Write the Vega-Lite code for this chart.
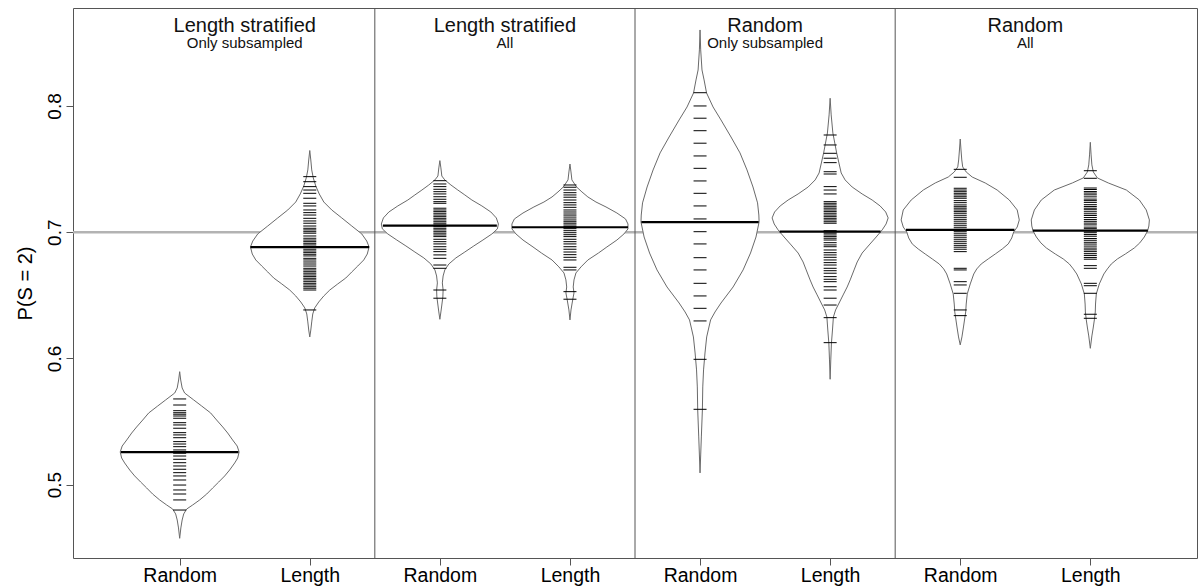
{
"$schema": "https://vega.github.io/schema/vega-lite/v6.json",
"width": 1124, "height": 550,
"autosize": {"type": "none"},
"padding": {"left": 73, "top": 8, "right": 3, "bottom": 28},
"background": "white",
"config": {"view": {"stroke": "#555", "strokeWidth": 1}, "font": "Liberation Sans"},
"datasets": {
"ref": [{"v": 0.7}],
"seps": [{"pos": 2.5}, {"pos": 4.5}, {"pos": 6.5}],
"panels": [
 {"pos": 1.5, "t1": "Length stratified", "t2": "Only subsampled"},
 {"pos": 3.5, "t1": "Length stratified", "t2": "All"},
 {"pos": 5.5, "t1": "Random", "t2": "Only subsampled"},
 {"pos": 7.5, "t1": "Random", "t2": "All"}],
"med": [
 {"b":1,"v":0.5257,"w":0.452},{"b":2,"v":0.6881,"w":0.456},{"b":3,"v":0.7052,"w":0.438},{"b":4,"v":0.7039,"w":0.446},
 {"b":5,"v":0.7079,"w":0.451},{"b":6,"v":0.7004,"w":0.388},{"b":7,"v":0.7018,"w":0.417},{"b":8,"v":0.7012,"w":0.442}],
"outline": [
 {"b":1,"v":0.5895,"w":0},{"b":1,"v":0.5829,"w":0.008},{"b":1,"v":0.5766,"w":0.019},{"b":1,"v":0.5726,"w":0.038},{"b":1,"v":0.5671,"w":0.108},{"b":1,"v":0.5623,"w":0.169},{"b":1,"v":0.5568,"w":0.238},{"b":1,"v":0.5512,"w":0.284},{"b":1,"v":0.5457,"w":0.331},{"b":1,"v":0.5409,"w":0.369},{"b":1,"v":0.5354,"w":0.407},{"b":1,"v":0.5306,"w":0.442},{"b":1,"v":0.5259,"w":0.457},{"b":1,"v":0.5211,"w":0.446},{"b":1,"v":0.5172,"w":0.423},{"b":1,"v":0.5116,"w":0.384},{"b":1,"v":0.5069,"w":0.346},{"b":1,"v":0.5021,"w":0.300},{"b":1,"v":0.4974,"w":0.254},{"b":1,"v":0.4926,"w":0.208},{"b":1,"v":0.4879,"w":0.154},{"b":1,"v":0.4839,"w":0.100},{"b":1,"v":0.4807,"w":0.054},{"b":1,"v":0.4768,"w":0.031},{"b":1,"v":0.4720,"w":0.019},{"b":1,"v":0.4657,"w":0.009},{"b":1,"v":0.4575,"w":0},
 {"b":2,"v":0.7647,"w":0},{"b":2,"v":0.7572,"w":0.008},{"b":2,"v":0.7493,"w":0.015},{"b":2,"v":0.7430,"w":0.027},{"b":2,"v":0.7366,"w":0.046},{"b":2,"v":0.7303,"w":0.073},{"b":2,"v":0.7239,"w":0.108},{"b":2,"v":0.7176,"w":0.169},{"b":2,"v":0.7113,"w":0.246},{"b":2,"v":0.7049,"w":0.323},{"b":2,"v":0.6986,"w":0.400},{"b":2,"v":0.6930,"w":0.438},{"b":2,"v":0.6883,"w":0.456},{"b":2,"v":0.6827,"w":0.442},{"b":2,"v":0.6780,"w":0.415},{"b":2,"v":0.6732,"w":0.369},{"b":2,"v":0.6685,"w":0.323},{"b":2,"v":0.6637,"w":0.277},{"b":2,"v":0.6590,"w":0.215},{"b":2,"v":0.6542,"w":0.154},{"b":2,"v":0.6495,"w":0.108},{"b":2,"v":0.6447,"w":0.069},{"b":2,"v":0.6400,"w":0.038},{"b":2,"v":0.6352,"w":0.023},{"b":2,"v":0.6289,"w":0.015},{"b":2,"v":0.6225,"w":0.008},{"b":2,"v":0.6170,"w":0},
 {"b":3,"v":0.7567,"w":0},{"b":3,"v":0.7509,"w":0.008},{"b":3,"v":0.7445,"w":0.015},{"b":3,"v":0.7414,"w":0.038},{"b":3,"v":0.7374,"w":0.085},{"b":3,"v":0.7334,"w":0.138},{"b":3,"v":0.7295,"w":0.192},{"b":3,"v":0.7255,"w":0.246},{"b":3,"v":0.7208,"w":0.323},{"b":3,"v":0.7160,"w":0.392},{"b":3,"v":0.7113,"w":0.434},{"b":3,"v":0.7065,"w":0.450},{"b":3,"v":0.7026,"w":0.442},{"b":3,"v":0.6986,"w":0.400},{"b":3,"v":0.6938,"w":0.331},{"b":3,"v":0.6891,"w":0.261},{"b":3,"v":0.6843,"w":0.192},{"b":3,"v":0.6796,"w":0.123},{"b":3,"v":0.6748,"w":0.069},{"b":3,"v":0.6701,"w":0.038},{"b":3,"v":0.6653,"w":0.025},{"b":3,"v":0.6598,"w":0.019},{"b":3,"v":0.6542,"w":0.025},{"b":3,"v":0.6487,"w":0.023},{"b":3,"v":0.6423,"w":0.015},{"b":3,"v":0.6368,"w":0.008},{"b":3,"v":0.6310,"w":0},
 {"b":4,"v":0.7540,"w":0},{"b":4,"v":0.7477,"w":0.008},{"b":4,"v":0.7414,"w":0.015},{"b":4,"v":0.7358,"w":0.051},{"b":4,"v":0.7319,"w":0.092},{"b":4,"v":0.7279,"w":0.138},{"b":4,"v":0.7239,"w":0.200},{"b":4,"v":0.7200,"w":0.277},{"b":4,"v":0.7152,"w":0.361},{"b":4,"v":0.7105,"w":0.427},{"b":4,"v":0.7065,"w":0.446},{"b":4,"v":0.7026,"w":0.446},{"b":4,"v":0.6986,"w":0.415},{"b":4,"v":0.6938,"w":0.361},{"b":4,"v":0.6883,"w":0.284},{"b":4,"v":0.6835,"w":0.219},{"b":4,"v":0.6780,"w":0.138},{"b":4,"v":0.6725,"w":0.085},{"b":4,"v":0.6677,"w":0.046},{"b":4,"v":0.6622,"w":0.031},{"b":4,"v":0.6566,"w":0.025},{"b":4,"v":0.6519,"w":0.031},{"b":4,"v":0.6463,"w":0.021},{"b":4,"v":0.6384,"w":0.008},{"b":4,"v":0.6305,"w":0},
 {"b":5,"v":0.8602,"w":0},{"b":5,"v":0.8444,"w":0.005},{"b":5,"v":0.8285,"w":0.015},{"b":5,"v":0.8206,"w":0.031},{"b":5,"v":0.8103,"w":0.050},{"b":5,"v":0.7992,"w":0.100},{"b":5,"v":0.7889,"w":0.161},{"b":5,"v":0.7754,"w":0.238},{"b":5,"v":0.7628,"w":0.307},{"b":5,"v":0.7493,"w":0.361},{"b":5,"v":0.7358,"w":0.407},{"b":5,"v":0.7232,"w":0.442},{"b":5,"v":0.7136,"w":0.452},{"b":5,"v":0.7081,"w":0.454},{"b":5,"v":0.6962,"w":0.430},{"b":5,"v":0.6835,"w":0.388},{"b":5,"v":0.6701,"w":0.331},{"b":5,"v":0.6566,"w":0.254},{"b":5,"v":0.6439,"w":0.161},{"b":5,"v":0.6368,"w":0.115},{"b":5,"v":0.6305,"w":0.081},{"b":5,"v":0.6170,"w":0.051},{"b":5,"v":0.6043,"w":0.038},{"b":5,"v":0.5909,"w":0.027},{"b":5,"v":0.5774,"w":0.021},{"b":5,"v":0.5592,"w":0.018},{"b":5,"v":0.5378,"w":0.010},{"b":5,"v":0.5235,"w":0.005},{"b":5,"v":0.5093,"w":0},
 {"b":6,"v":0.8061,"w":0},{"b":6,"v":0.7929,"w":0.008},{"b":6,"v":0.7786,"w":0.021},{"b":6,"v":0.7628,"w":0.050},{"b":6,"v":0.7469,"w":0.085},{"b":6,"v":0.7414,"w":0.115},{"b":6,"v":0.7358,"w":0.169},{"b":6,"v":0.7303,"w":0.246},{"b":6,"v":0.7255,"w":0.323},{"b":6,"v":0.7208,"w":0.384},{"b":6,"v":0.7160,"w":0.427},{"b":6,"v":0.7113,"w":0.446},{"b":6,"v":0.7065,"w":0.430},{"b":6,"v":0.7018,"w":0.400},{"b":6,"v":0.6962,"w":0.354},{"b":6,"v":0.6899,"w":0.300},{"b":6,"v":0.6835,"w":0.246},{"b":6,"v":0.6764,"w":0.208},{"b":6,"v":0.6701,"w":0.184},{"b":6,"v":0.6622,"w":0.154},{"b":6,"v":0.6566,"w":0.131},{"b":6,"v":0.6503,"w":0.100},{"b":6,"v":0.6439,"w":0.069},{"b":6,"v":0.6384,"w":0.042},{"b":6,"v":0.6328,"w":0.025},{"b":6,"v":0.6225,"w":0.018},{"b":6,"v":0.6122,"w":0.010},{"b":6,"v":0.5988,"w":0.005},{"b":6,"v":0.5835,"w":0},
 {"b":7,"v":0.7738,"w":0},{"b":7,"v":0.7651,"w":0.006},{"b":7,"v":0.7572,"w":0.012},{"b":7,"v":0.7517,"w":0.019},{"b":7,"v":0.7477,"w":0.046},{"b":7,"v":0.7437,"w":0.092},{"b":7,"v":0.7390,"w":0.192},{"b":7,"v":0.7334,"w":0.284},{"b":7,"v":0.7255,"w":0.377},{"b":7,"v":0.7176,"w":0.438},{"b":7,"v":0.7097,"w":0.454},{"b":7,"v":0.7041,"w":0.438},{"b":7,"v":0.7002,"w":0.411},{"b":7,"v":0.6954,"w":0.396},{"b":7,"v":0.6907,"w":0.369},{"b":7,"v":0.6867,"w":0.323},{"b":7,"v":0.6827,"w":0.269},{"b":7,"v":0.6788,"w":0.215},{"b":7,"v":0.6748,"w":0.161},{"b":7,"v":0.6709,"w":0.127},{"b":7,"v":0.6669,"w":0.104},{"b":7,"v":0.6590,"w":0.077},{"b":7,"v":0.6511,"w":0.054},{"b":7,"v":0.6431,"w":0.046},{"b":7,"v":0.6368,"w":0.042},{"b":7,"v":0.6320,"w":0.035},{"b":7,"v":0.6249,"w":0.025},{"b":7,"v":0.6170,"w":0.013},{"b":7,"v":0.6107,"w":0},
 {"b":8,"v":0.7712,"w":0},{"b":8,"v":0.7612,"w":0.006},{"b":8,"v":0.7533,"w":0.012},{"b":8,"v":0.7477,"w":0.023},{"b":8,"v":0.7430,"w":0.054},{"b":8,"v":0.7390,"w":0.138},{"b":8,"v":0.7334,"w":0.277},{"b":8,"v":0.7255,"w":0.377},{"b":8,"v":0.7176,"w":0.430},{"b":8,"v":0.7097,"w":0.454},{"b":8,"v":0.7049,"w":0.450},{"b":8,"v":0.7010,"w":0.440},{"b":8,"v":0.6962,"w":0.415},{"b":8,"v":0.6915,"w":0.380},{"b":8,"v":0.6875,"w":0.338},{"b":8,"v":0.6827,"w":0.269},{"b":8,"v":0.6788,"w":0.208},{"b":8,"v":0.6748,"w":0.161},{"b":8,"v":0.6709,"w":0.131},{"b":8,"v":0.6669,"w":0.104},{"b":8,"v":0.6590,"w":0.069},{"b":8,"v":0.6511,"w":0.046},{"b":8,"v":0.6431,"w":0.040},{"b":8,"v":0.6368,"w":0.038},{"b":8,"v":0.6305,"w":0.031},{"b":8,"v":0.6241,"w":0.022},{"b":8,"v":0.6178,"w":0.012},{"b":8,"v":0.6080,"w":0}],
"lines": [
 {"b":1,"v":0.5679},{"b":1,"v":0.5631},{"b":1,"v":0.5586},{"b":1,"v":0.5570},{"b":1,"v":0.5558},{"b":1,"v":0.5544},{"b":1,"v":0.5526},{"b":1,"v":0.5491},{"b":1,"v":0.5473},{"b":1,"v":0.5447},{"b":1,"v":0.5412},{"b":1,"v":0.5394},{"b":1,"v":0.5372},{"b":1,"v":0.5341},{"b":1,"v":0.5322},{"b":1,"v":0.5301},{"b":1,"v":0.5275},{"b":1,"v":0.5249},{"b":1,"v":0.5227},{"b":1,"v":0.5201},{"b":1,"v":0.5174},{"b":1,"v":0.5148},{"b":1,"v":0.5122},{"b":1,"v":0.5095},{"b":1,"v":0.5069},{"b":1,"v":0.5037},{"b":1,"v":0.4997},{"b":1,"v":0.4958},{"b":1,"v":0.4926},{"b":1,"v":0.4879},{"b":1,"v":0.4799},
 {"b":2,"v":0.7440},{"b":2,"v":0.7400},{"b":2,"v":0.7361},{"b":2,"v":0.7334},{"b":2,"v":0.7308},{"b":2,"v":0.7269},{"b":2,"v":0.7229},{"b":2,"v":0.7208},{"b":2,"v":0.7176},{"b":2,"v":0.7155},{"b":2,"v":0.7136},{"b":2,"v":0.7110},{"b":2,"v":0.7089},{"b":2,"v":0.7071},{"b":2,"v":0.7049},{"b":2,"v":0.7031},{"b":2,"v":0.7018},{"b":2,"v":0.7004},{"b":2,"v":0.6992},{"b":2,"v":0.6970},{"b":2,"v":0.6952},{"b":2,"v":0.6938},{"b":2,"v":0.6925},{"b":2,"v":0.6912},{"b":2,"v":0.6899},{"b":2,"v":0.6881},{"b":2,"v":0.6865},{"b":2,"v":0.6851},{"b":2,"v":0.6838},{"b":2,"v":0.6825},{"b":2,"v":0.6812},{"b":2,"v":0.6793},{"b":2,"v":0.6780},{"b":2,"v":0.6764},{"b":2,"v":0.6748},{"b":2,"v":0.6732},{"b":2,"v":0.6714},{"b":2,"v":0.6701},{"b":2,"v":0.6687},{"b":2,"v":0.6675},{"b":2,"v":0.6661},{"b":2,"v":0.6648},{"b":2,"v":0.6635},{"b":2,"v":0.6622},{"b":2,"v":0.6608},{"b":2,"v":0.6595},{"b":2,"v":0.6582},{"b":2,"v":0.6568},{"b":2,"v":0.6556},{"b":2,"v":0.6542},{"b":2,"v":0.6384},
 {"b":3,"v":0.7408},{"b":3,"v":0.7382},{"b":3,"v":0.7361},{"b":3,"v":0.7340},{"b":3,"v":0.7321},{"b":3,"v":0.7303},{"b":3,"v":0.7281},{"b":3,"v":0.7261},{"b":3,"v":0.7242},{"b":3,"v":0.7229},{"b":3,"v":0.7190},{"b":3,"v":0.7176},{"b":3,"v":0.7163},{"b":3,"v":0.7150},{"b":3,"v":0.7136},{"b":3,"v":0.7123},{"b":3,"v":0.7110},{"b":3,"v":0.7097},{"b":3,"v":0.7083},{"b":3,"v":0.7071},{"b":3,"v":0.7057},{"b":3,"v":0.7044},{"b":3,"v":0.7031},{"b":3,"v":0.7018},{"b":3,"v":0.7004},{"b":3,"v":0.6992},{"b":3,"v":0.6978},{"b":3,"v":0.6965},{"b":3,"v":0.6944},{"b":3,"v":0.6925},{"b":3,"v":0.6907},{"b":3,"v":0.6885},{"b":3,"v":0.6865},{"b":3,"v":0.6846},{"b":3,"v":0.6820},{"b":3,"v":0.6793},{"b":3,"v":0.6740},{"b":3,"v":0.6714},{"b":3,"v":0.6542},{"b":3,"v":0.6477},
 {"b":4,"v":0.7374},{"b":4,"v":0.7356},{"b":4,"v":0.7334},{"b":4,"v":0.7313},{"b":4,"v":0.7295},{"b":4,"v":0.7277},{"b":4,"v":0.7255},{"b":4,"v":0.7234},{"b":4,"v":0.7216},{"b":4,"v":0.7197},{"b":4,"v":0.7176},{"b":4,"v":0.7160},{"b":4,"v":0.7144},{"b":4,"v":0.7129},{"b":4,"v":0.7113},{"b":4,"v":0.7097},{"b":4,"v":0.7083},{"b":4,"v":0.7071},{"b":4,"v":0.7057},{"b":4,"v":0.7044},{"b":4,"v":0.7028},{"b":4,"v":0.7012},{"b":4,"v":0.6996},{"b":4,"v":0.6980},{"b":4,"v":0.6965},{"b":4,"v":0.6944},{"b":4,"v":0.6925},{"b":4,"v":0.6907},{"b":4,"v":0.6885},{"b":4,"v":0.6865},{"b":4,"v":0.6843},{"b":4,"v":0.6822},{"b":4,"v":0.6801},{"b":4,"v":0.6780},{"b":4,"v":0.6722},{"b":4,"v":0.6701},{"b":4,"v":0.6529},{"b":4,"v":0.6469},
 {"b":5,"v":0.8105},{"b":5,"v":0.8000},{"b":5,"v":0.7903},{"b":5,"v":0.7804},{"b":5,"v":0.7705},{"b":5,"v":0.7604},{"b":5,"v":0.7506},{"b":5,"v":0.7406},{"b":5,"v":0.7308},{"b":5,"v":0.7208},{"b":5,"v":0.7105},{"b":5,"v":0.7004},{"b":5,"v":0.6907},{"b":5,"v":0.6798},{"b":5,"v":0.6701},{"b":5,"v":0.6595},{"b":5,"v":0.6495},{"b":5,"v":0.6397},{"b":5,"v":0.6297},{"b":5,"v":0.5993},{"b":5,"v":0.5597},
 {"b":6,"v":0.7770},{"b":6,"v":0.7691},{"b":6,"v":0.7625},{"b":6,"v":0.7586},{"b":6,"v":0.7551},{"b":6,"v":0.7479},{"b":6,"v":0.7461},{"b":6,"v":0.7361},{"b":6,"v":0.7334},{"b":6,"v":0.7303},{"b":6,"v":0.7242},{"b":6,"v":0.7229},{"b":6,"v":0.7216},{"b":6,"v":0.7202},{"b":6,"v":0.7190},{"b":6,"v":0.7176},{"b":6,"v":0.7163},{"b":6,"v":0.7150},{"b":6,"v":0.7136},{"b":6,"v":0.7123},{"b":6,"v":0.7110},{"b":6,"v":0.7097},{"b":6,"v":0.7083},{"b":6,"v":0.7071},{"b":6,"v":0.7012},{"b":6,"v":0.7002},{"b":6,"v":0.6992},{"b":6,"v":0.6978},{"b":6,"v":0.6965},{"b":6,"v":0.6952},{"b":6,"v":0.6938},{"b":6,"v":0.6917},{"b":6,"v":0.6899},{"b":6,"v":0.6885},{"b":6,"v":0.6859},{"b":6,"v":0.6838},{"b":6,"v":0.6820},{"b":6,"v":0.6801},{"b":6,"v":0.6780},{"b":6,"v":0.6759},{"b":6,"v":0.6740},{"b":6,"v":0.6714},{"b":6,"v":0.6695},{"b":6,"v":0.6675},{"b":6,"v":0.6648},{"b":6,"v":0.6627},{"b":6,"v":0.6608},{"b":6,"v":0.6568},{"b":6,"v":0.6542},{"b":6,"v":0.6477},{"b":6,"v":0.6423},{"b":6,"v":0.6323},{"b":6,"v":0.6125},
 {"b":7,"v":0.7498},{"b":7,"v":0.7435},{"b":7,"v":0.7348},{"b":7,"v":0.7334},{"b":7,"v":0.7321},{"b":7,"v":0.7308},{"b":7,"v":0.7295},{"b":7,"v":0.7281},{"b":7,"v":0.7269},{"b":7,"v":0.7250},{"b":7,"v":0.7234},{"b":7,"v":0.7216},{"b":7,"v":0.7202},{"b":7,"v":0.7190},{"b":7,"v":0.7176},{"b":7,"v":0.7163},{"b":7,"v":0.7150},{"b":7,"v":0.7134},{"b":7,"v":0.7118},{"b":7,"v":0.7102},{"b":7,"v":0.7087},{"b":7,"v":0.7071},{"b":7,"v":0.7055},{"b":7,"v":0.7039},{"b":7,"v":0.7023},{"b":7,"v":0.7007},{"b":7,"v":0.6992},{"b":7,"v":0.6976},{"b":7,"v":0.6960},{"b":7,"v":0.6944},{"b":7,"v":0.6928},{"b":7,"v":0.6912},{"b":7,"v":0.6896},{"b":7,"v":0.6881},{"b":7,"v":0.6865},{"b":7,"v":0.6846},{"b":7,"v":0.6714},{"b":7,"v":0.6701},{"b":7,"v":0.6608},{"b":7,"v":0.6582},{"b":7,"v":0.6516},{"b":7,"v":0.6384},{"b":7,"v":0.6339},
 {"b":8,"v":0.7487},{"b":8,"v":0.7427},{"b":8,"v":0.7350},{"b":8,"v":0.7338},{"b":8,"v":0.7322},{"b":8,"v":0.7310},{"b":8,"v":0.7296},{"b":8,"v":0.7280},{"b":8,"v":0.7262},{"b":8,"v":0.7250},{"b":8,"v":0.7236},{"b":8,"v":0.7218},{"b":8,"v":0.7204},{"b":8,"v":0.7190},{"b":8,"v":0.7178},{"b":8,"v":0.7162},{"b":8,"v":0.7146},{"b":8,"v":0.7132},{"b":8,"v":0.7116},{"b":8,"v":0.7100},{"b":8,"v":0.7086},{"b":8,"v":0.7072},{"b":8,"v":0.7058},{"b":8,"v":0.7040},{"b":8,"v":0.7028},{"b":8,"v":0.7010},{"b":8,"v":0.6996},{"b":8,"v":0.6982},{"b":8,"v":0.6968},{"b":8,"v":0.6950},{"b":8,"v":0.6936},{"b":8,"v":0.6920},{"b":8,"v":0.6906},{"b":8,"v":0.6890},{"b":8,"v":0.6874},{"b":8,"v":0.6860},{"b":8,"v":0.6846},{"b":8,"v":0.6830},{"b":8,"v":0.6816},{"b":8,"v":0.6800},{"b":8,"v":0.6786},{"b":8,"v":0.6735},{"b":8,"v":0.6714},{"b":8,"v":0.6595},{"b":8,"v":0.6576},{"b":8,"v":0.6516},{"b":8,"v":0.6350},{"b":8,"v":0.6318}]
},
"layer": [
 {"data": {"name": "ref"},
  "mark": {"type": "rule", "color": "#b3b3b3", "strokeWidth": 2.4},
  "encoding": {"y": {"field": "v", "type": "quantitative", "scale": {"domain": [0.4419, 0.8776], "nice": false, "zero": false},
     "axis": {"values": [0.5, 0.6, 0.7, 0.8], "format": ".1f", "title": "P(S = 2)", "grid": false, "domain": false, "tickColor": "#555", "tickSize": 7, "labelFontSize": 19, "labelAngle": 270, "labelAlign": "center", "labelBaseline": "alphabetic", "labelPadding": 6, "labelColor": "black", "labelFlush": false, "labelFont": "Liberation Sans", "titleFont": "Liberation Sans", "titleFontSize": 20, "titleFontWeight": "normal", "titleColor": "black", "titleAngle": 270, "titleBaseline": "bottom", "titleAlign": "center", "titleX": -38, "titleY": 275}}}},
 {"data": {"name": "seps"},
  "mark": {"type": "rule", "color": "#555", "strokeWidth": 1},
  "encoding": {"x": {"field": "pos", "type": "quantitative", "scale": {"domain": [0.18, 8.82], "nice": false, "zero": false},
     "axis": {"values": [1,2,3,4,5,6,7,8], "labelExpr": "datum.value % 2 == 1 ? 'Random' : 'Length'", "title": null, "grid": false, "domain": false, "tickColor": "#555", "tickSize": 7, "labelFontSize": 19.5, "labelColor": "black", "labelPadding": 1, "labelFlush": false, "labelOverlap": false, "labelFont": "Liberation Sans"}}}},
 {"data": {"name": "outline"},
  "transform": [{"calculate": "datum.b - datum.w", "as": "lo"}, {"calculate": "datum.b + datum.w", "as": "hi"}],
  "mark": {"type": "area", "orient": "horizontal", "fill": "white", "fillOpacity": 1, "stroke": "#6a6a6a", "strokeWidth": 1},
  "encoding": {
   "y": {"field": "v", "type": "quantitative", "scale": {"domain": [0.4419, 0.8776], "nice": false, "zero": false},
     "axis": {"values": [0.5, 0.6, 0.7, 0.8], "format": ".1f", "title": "P(S = 2)", "grid": false, "domain": false, "tickColor": "#555", "tickSize": 7, "labelFontSize": 19, "labelAngle": 270, "labelAlign": "center", "labelBaseline": "alphabetic", "labelPadding": 6, "labelColor": "black", "labelFlush": false, "labelFont": "Liberation Sans", "titleFont": "Liberation Sans", "titleFontSize": 20, "titleFontWeight": "normal", "titleColor": "black", "titleAngle": 270, "titleBaseline": "bottom", "titleAlign": "center", "titleX": -38, "titleY": 275}},
   "x": {"field": "lo", "type": "quantitative", "scale": {"domain": [0.18, 8.82], "nice": false, "zero": false},
     "axis": {"values": [1,2,3,4,5,6,7,8], "labelExpr": "datum.value % 2 == 1 ? 'Random' : 'Length'", "title": null, "grid": false, "domain": false, "tickColor": "#555", "tickSize": 7, "labelFontSize": 19.5, "labelColor": "black", "labelPadding": 1, "labelFlush": false, "labelOverlap": false, "labelFont": "Liberation Sans"}},
   "x2": {"field": "hi"},
   "detail": {"field": "b", "type": "nominal"}}},
 {"data": {"name": "lines"},
  "mark": {"type": "tick", "orient": "horizontal", "color": "black", "size": 13, "thickness": 1, "opacity": 1},
  "encoding": {
   "x": {"field": "b", "type": "quantitative", "scale": {"domain": [0.18, 8.82], "nice": false, "zero": false},
     "axis": {"values": [1,2,3,4,5,6,7,8], "labelExpr": "datum.value % 2 == 1 ? 'Random' : 'Length'", "title": null, "grid": false, "domain": false, "tickColor": "#555", "tickSize": 7, "labelFontSize": 19.5, "labelColor": "black", "labelPadding": 1, "labelFlush": false, "labelOverlap": false, "labelFont": "Liberation Sans"}},
   "y": {"field": "v", "type": "quantitative", "scale": {"domain": [0.4419, 0.8776], "nice": false, "zero": false},
     "axis": {"values": [0.5, 0.6, 0.7, 0.8], "format": ".1f", "title": "P(S = 2)", "grid": false, "domain": false, "tickColor": "#555", "tickSize": 7, "labelFontSize": 19, "labelAngle": 270, "labelAlign": "center", "labelBaseline": "alphabetic", "labelPadding": 6, "labelColor": "black", "labelFlush": false, "labelFont": "Liberation Sans", "titleFont": "Liberation Sans", "titleFontSize": 20, "titleFontWeight": "normal", "titleColor": "black", "titleAngle": 270, "titleBaseline": "bottom", "titleAlign": "center", "titleX": -38, "titleY": 275}}}},
 {"data": {"name": "med"},
  "transform": [{"calculate": "datum.b - datum.w", "as": "lo"}, {"calculate": "datum.b + datum.w", "as": "hi"}],
  "mark": {"type": "rule", "color": "black", "strokeWidth": 2.2},
  "encoding": {
   "y": {"field": "v", "type": "quantitative", "scale": {"domain": [0.4419, 0.8776], "nice": false, "zero": false},
     "axis": {"values": [0.5, 0.6, 0.7, 0.8], "format": ".1f", "title": "P(S = 2)", "grid": false, "domain": false, "tickColor": "#555", "tickSize": 7, "labelFontSize": 19, "labelAngle": 270, "labelAlign": "center", "labelBaseline": "alphabetic", "labelPadding": 6, "labelColor": "black", "labelFlush": false, "labelFont": "Liberation Sans", "titleFont": "Liberation Sans", "titleFontSize": 20, "titleFontWeight": "normal", "titleColor": "black", "titleAngle": 270, "titleBaseline": "bottom", "titleAlign": "center", "titleX": -38, "titleY": 275}},
   "x": {"field": "lo", "type": "quantitative", "scale": {"domain": [0.18, 8.82], "nice": false, "zero": false},
     "axis": {"values": [1,2,3,4,5,6,7,8], "labelExpr": "datum.value % 2 == 1 ? 'Random' : 'Length'", "title": null, "grid": false, "domain": false, "tickColor": "#555", "tickSize": 7, "labelFontSize": 19.5, "labelColor": "black", "labelPadding": 1, "labelFlush": false, "labelOverlap": false, "labelFont": "Liberation Sans"}},
   "x2": {"field": "hi"}}},
 {"data": {"name": "panels"},
  "mark": {"type": "text", "fontSize": 20, "font": "Liberation Sans", "color": "#111", "align": "center", "baseline": "alphabetic"},
  "encoding": {
   "x": {"field": "pos", "type": "quantitative", "scale": {"domain": [0.18, 8.82], "nice": false, "zero": false},
     "axis": {"values": [1,2,3,4,5,6,7,8], "labelExpr": "datum.value % 2 == 1 ? 'Random' : 'Length'", "title": null, "grid": false, "domain": false, "tickColor": "#555", "tickSize": 7, "labelFontSize": 19.5, "labelColor": "black", "labelPadding": 1, "labelFlush": false, "labelOverlap": false, "labelFont": "Liberation Sans"}},
   "y": {"datum": 0.8589, "type": "quantitative", "scale": {"domain": [0.4419, 0.8776], "nice": false, "zero": false},
     "axis": {"values": [0.5, 0.6, 0.7, 0.8], "format": ".1f", "title": "P(S = 2)", "grid": false, "domain": false, "tickColor": "#555", "tickSize": 7, "labelFontSize": 19, "labelAngle": 270, "labelAlign": "center", "labelBaseline": "alphabetic", "labelPadding": 6, "labelColor": "black", "labelFlush": false, "labelFont": "Liberation Sans", "titleFont": "Liberation Sans", "titleFontSize": 20, "titleFontWeight": "normal", "titleColor": "black", "titleAngle": 270, "titleBaseline": "bottom", "titleAlign": "center", "titleX": -38, "titleY": 275}},
   "text": {"field": "t1"}}},
 {"data": {"name": "panels"},
  "mark": {"type": "text", "fontSize": 15, "font": "Liberation Sans", "color": "#111", "align": "center", "baseline": "alphabetic"},
  "encoding": {
   "x": {"field": "pos", "type": "quantitative", "scale": {"domain": [0.18, 8.82], "nice": false, "zero": false},
     "axis": {"values": [1,2,3,4,5,6,7,8], "labelExpr": "datum.value % 2 == 1 ? 'Random' : 'Length'", "title": null, "grid": false, "domain": false, "tickColor": "#555", "tickSize": 7, "labelFontSize": 19.5, "labelColor": "black", "labelPadding": 1, "labelFlush": false, "labelOverlap": false, "labelFont": "Liberation Sans"}},
   "y": {"datum": 0.8462, "type": "quantitative", "scale": {"domain": [0.4419, 0.8776], "nice": false, "zero": false},
     "axis": {"values": [0.5, 0.6, 0.7, 0.8], "format": ".1f", "title": "P(S = 2)", "grid": false, "domain": false, "tickColor": "#555", "tickSize": 7, "labelFontSize": 19, "labelAngle": 270, "labelAlign": "center", "labelBaseline": "alphabetic", "labelPadding": 6, "labelColor": "black", "labelFlush": false, "labelFont": "Liberation Sans", "titleFont": "Liberation Sans", "titleFontSize": 20, "titleFontWeight": "normal", "titleColor": "black", "titleAngle": 270, "titleBaseline": "bottom", "titleAlign": "center", "titleX": -38, "titleY": 275}},
   "text": {"field": "t2"}}}
]
}
